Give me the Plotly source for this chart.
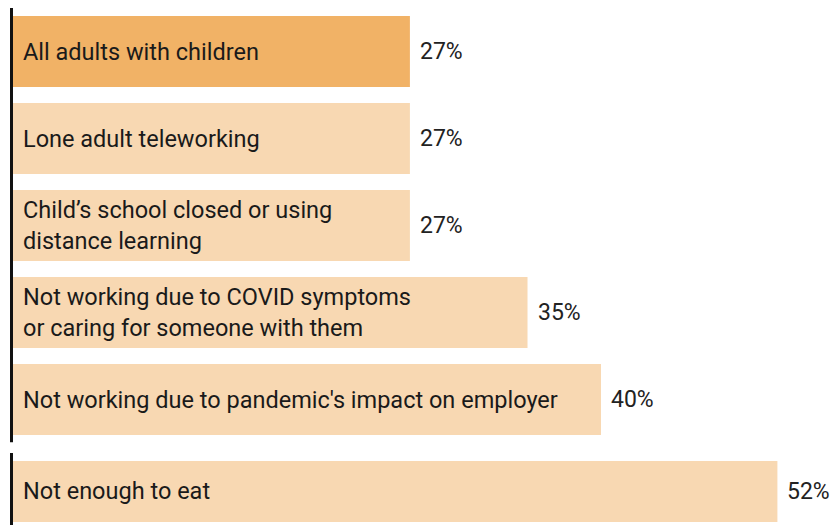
import plotly.graph_objects as go

labels = [
    "All adults with children",
    "Lone adult teleworking",
    "Child’s school closed or using<br>distance learning",
    "Not working due to COVID symptoms<br>or caring for someone with them",
    "Not working due to pandemic's impact on employer",
    "Not enough to eat",
]
values = [27, 27, 27, 35, 40, 52]
colors = ["#F1B266", "#F8D8B2", "#F8D8B2", "#F8D8B2", "#F8D8B2", "#F8D8B2"]
positions = [0, 1, 2, 3, 4, 5.057]
widths = [0.816, 0.816, 0.816, 0.816, 0.816, 0.70]

FONT = "Roboto"
PX_PER_UNIT = 87.0
Y_TOP = -0.592
PLOT_H = 522.0

def to_paper(u):
    return 1 - (u - Y_TOP) * PX_PER_UNIT / PLOT_H

fig = go.Figure()
fig.add_trace(go.Bar(
    x=values, y=positions, orientation="h", width=widths,
    marker=dict(color=colors, line=dict(width=0)),
    hoverinfo="skip",
))

for lab, v, p in zip(labels, values, positions):
    fig.add_annotation(x=0, y=p, xref="x", yref="y", text=lab, showarrow=False,
                       xanchor="left", yanchor="middle", xshift=9,
                       align="left", borderpad=0,
                       font=dict(family=FONT, size=23.5, color="#1a1a1a"))
    fig.add_annotation(x=v, y=p, xref="x", yref="y", text=f"{v}%", showarrow=False,
                       xanchor="left", yanchor="middle", xshift=8,
                       font=dict(family=FONT, size=23, color="#222222"))

# vertical separator lines
for y0, y1 in [(-0.5, 4.49), (4.615, 5.7)]:
    fig.add_shape(type="rect", xref="paper", yref="paper",
                  x0=-3 / 818, x1=0, y0=to_paper(y1), y1=to_paper(y0),
                  fillcolor="#111111", line=dict(width=0), layer="above")

fig.update_layout(
    width=831, height=525,
    margin=dict(l=13, r=0, t=0, b=3),
    plot_bgcolor="white", paper_bgcolor="white",
    showlegend=False,
    xaxis=dict(range=[0, 818 / 14.7], visible=False, fixedrange=True),
    yaxis=dict(range=[Y_TOP + PLOT_H / PX_PER_UNIT, Y_TOP], visible=False, fixedrange=True),
)

fig.write_html("out.html")
